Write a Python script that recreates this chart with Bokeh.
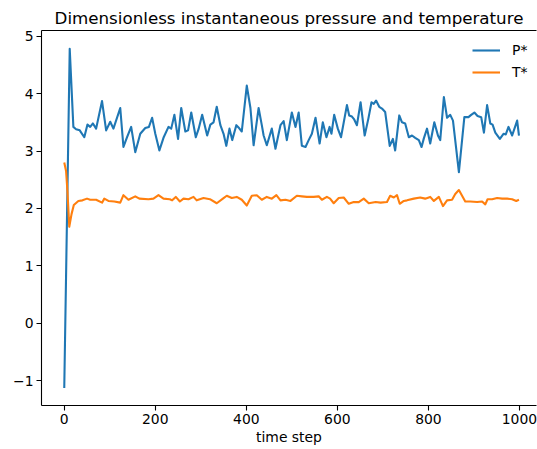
from bokeh.plotting import figure
from bokeh.models import ColumnDataSource, FixedTicker, LinearAxis, Range1d, Legend, LegendItem
from bokeh.embed import file_html
from bokeh.resources import INLINE

# ---- data ----
p_steps = [0, 12, 20, 26, 34, 44, 51, 57, 63, 70, 83, 92, 101, 108, 123, 130, 138, 147, 156, 167,
           178, 186, 193, 200, 209, 218, 229, 235, 242, 250, 257, 266, 272, 279, 289, 295, 303, 314,
           321, 328, 335, 343, 350, 356, 363, 369, 378, 384, 390, 401, 409, 416, 427, 434, 438, 445,
           456, 464, 475, 482, 489, 500, 508, 515, 522, 530, 537, 544, 552, 561, 568, 576, 583, 587,
           593, 601, 608, 621, 626, 632, 637, 643, 651, 660, 668, 675, 680, 685, 692, 698, 705, 715,
           722, 727, 736, 742, 749, 757, 764, 771, 779, 785, 790, 797, 804, 813, 821, 826, 834, 841,
           848, 854, 867, 879, 888, 894, 901, 908, 916, 922, 929, 936, 941, 947, 957, 965, 970, 976,
           984, 995, 999]
p_vals = [-1.13, 4.78, 3.42, 3.38, 3.36, 3.24, 3.46, 3.42, 3.48, 3.39, 3.87, 3.36, 3.51, 3.39, 3.75,
          3.07, 3.24, 3.42, 2.98, 3.30, 3.40, 3.42, 3.58, 3.30, 3.01, 3.23, 3.42, 3.39, 3.63, 3.21,
          3.75, 3.34, 3.36, 3.67, 3.24, 3.38, 3.63, 3.27, 3.46, 3.50, 3.77, 3.45, 3.30, 3.09, 3.39,
          3.19, 3.45, 3.40, 3.34, 4.14, 3.75, 3.10, 3.75, 3.45, 3.27, 3.10, 3.39, 3.04, 3.45, 3.52,
          3.19, 3.67, 3.42, 3.67, 3.09, 3.07, 3.19, 3.30, 3.58, 3.13, 3.50, 3.24, 3.42, 3.30, 3.63,
          3.39, 3.24, 3.80, 3.62, 3.60, 3.55, 3.45, 3.85, 3.27, 3.56, 3.85, 3.82, 3.88, 3.77, 3.74,
          3.68, 3.09, 3.21, 3.01, 3.62, 3.50, 3.48, 3.24, 3.27, 3.23, 3.19, 3.07, 3.22, 3.39, 3.13,
          3.50, 3.27, 3.19, 3.94, 3.58, 3.63, 3.53, 2.63, 3.59, 3.59, 3.63, 3.67, 3.61, 3.59, 3.32,
          3.80, 3.48, 3.46, 3.32, 3.21, 3.30, 3.29, 3.42, 3.27, 3.53, 3.27]

t_steps = [0, 4, 7, 11, 16, 21, 31, 40, 50, 57, 70, 83, 88, 97, 110, 123, 130, 141, 156, 165, 185,
           196, 207, 218, 232, 237, 245, 254, 262, 273, 284, 291, 306, 320, 335, 350, 357, 368, 379,
           390, 401, 412, 423, 434, 445, 456, 466, 475, 486, 497, 511, 522, 533, 548, 559, 566, 577,
           584, 592, 603, 614, 625, 636, 647, 658, 669, 684, 695, 709, 716, 724, 731, 737, 746, 753,
           768, 782, 793, 804, 812, 823, 832, 841, 852, 859, 867, 874, 881, 892, 907, 918, 925, 930,
           940, 951, 962, 973, 984, 993, 999]
t_vals = [2.80, 2.65, 2.30, 1.68, 1.90, 2.06, 2.13, 2.14, 2.17, 2.15, 2.15, 2.10, 2.17, 2.13, 2.12,
          2.10, 2.23, 2.15, 2.21, 2.17, 2.16, 2.17, 2.23, 2.17, 2.16, 2.14, 2.20, 2.12, 2.17, 2.16,
          2.20, 2.14, 2.18, 2.16, 2.09, 2.18, 2.22, 2.18, 2.20, 2.15, 2.05, 2.22, 2.23, 2.15, 2.20,
          2.17, 2.23, 2.14, 2.15, 2.13, 2.22, 2.21, 2.20, 2.20, 2.21, 2.15, 2.20, 2.17, 2.09, 2.18,
          2.19, 2.08, 2.11, 2.11, 2.17, 2.09, 2.11, 2.10, 2.11, 2.22, 2.19, 2.23, 2.08, 2.13, 2.14,
          2.17, 2.19, 2.17, 2.20, 2.13, 2.20, 2.04, 2.14, 2.15, 2.25, 2.32, 2.22, 2.12, 2.12, 2.11,
          2.12, 2.07, 2.16, 2.16, 2.18, 2.17, 2.17, 2.16, 2.13, 2.15]

series_names = ["P*", "T*"]
series_colors = ["#1f77b4", "#ff7f0e"]
y_ticks = [-1, 0, 1, 2, 3, 4, 5]
x_ticks = [0, 200, 400, 600, 800, 1000]
title_text = "Dimensionless instantaneous pressure and temperature"
x_label = "time step"

FONT = "DejaVu Sans"

p = figure(width=537, height=449, output_backend="svg", toolbar_location=None,
           x_range=Range1d(-50, 1037.5), y_range=Range1d(-1.435, 5.1),
           min_border_left=41, min_border_right=1, min_border_top=30, min_border_bottom=44)

p.title.text = title_text
p.title.text_font = FONT
p.title.text_font_size = "16.7px"
p.title.text_font_style = "normal"
p.title.text_color = "black"
p.title.align = "center"
p.title.offset = 3
p.title.standoff = 5

p.outline_line_color = None
p.grid.visible = False
p.background_fill_color = "white"
p.border_fill_color = "white"

src_p = ColumnDataSource(dict(x=p_steps, y=p_vals))
src_t = ColumnDataSource(dict(x=t_steps, y=t_vals))
rp = p.line("x", "y", source=src_p, line_color=series_colors[0], line_width=2.1, line_join="round")
rt = p.line("x", "y", source=src_t, line_color=series_colors[1], line_width=2.1, line_join="round")

for ax in (p.xaxis[0], p.yaxis[0]):
    ax.axis_line_color = "black"
    ax.axis_line_width = 1.1
    ax.major_tick_line_color = "black"
    ax.major_tick_line_width = 1.1
    ax.major_tick_out = 5
    ax.major_tick_in = 0
    ax.minor_tick_line_color = None
    ax.major_label_text_font = FONT
    ax.major_label_text_font_size = "13.9px"
    ax.major_label_text_color = "black"
    ax.major_label_standoff = 3

p.xaxis.ticker = FixedTicker(ticks=x_ticks)
p.yaxis.ticker = FixedTicker(ticks=y_ticks)
p.yaxis.major_label_overrides = {t: str(t).replace("-", "\u2212") for t in y_ticks}
p.xaxis.axis_label = x_label
p.xaxis.axis_label_text_font = FONT
p.xaxis.axis_label_text_font_size = "13.9px"
p.xaxis.axis_label_text_font_style = "normal"
p.xaxis.axis_label_text_color = "black"
p.xaxis.axis_label_standoff = 2

top = LinearAxis(ticker=FixedTicker(ticks=[]), axis_line_color="black", axis_line_width=1.1,
                 major_tick_line_color=None, minor_tick_line_color=None,
                 major_label_text_color=None)
p.add_layout(top, "above")

legend = Legend(items=[LegendItem(label=series_names[0], renderers=[rp]),
                       LegendItem(label=series_names[1], renderers=[rt])],
                location=(431, 322), padding=0, margin=0, spacing=0,
                glyph_width=28, glyph_height=22, label_height=22, label_standoff=12,
                border_line_color=None, background_fill_alpha=0,
                label_text_font=FONT, label_text_font_size="13.9px", label_text_color="black")
p.add_layout(legend)

open("out.html", "w").write(file_html(p, INLINE))
